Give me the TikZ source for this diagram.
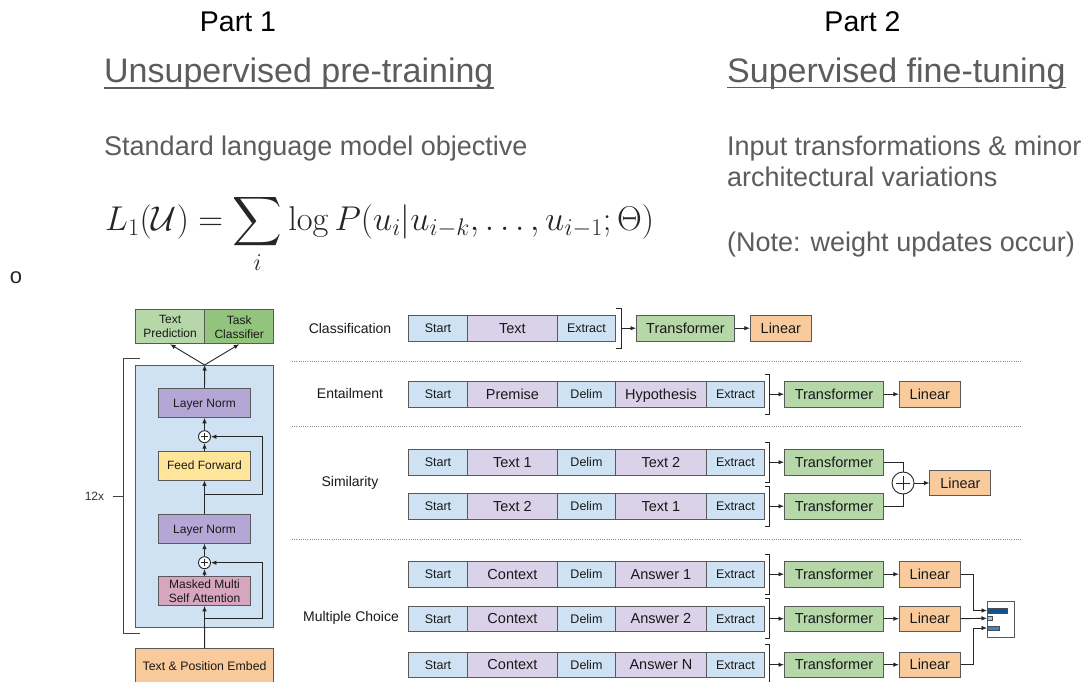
\RequirePackage{fix-cm}
\documentclass[tikz,border=0pt]{standalone}
\usepackage{amsmath}
\usepackage{amssymb}
\usepackage[no-math]{fontspec}
\setmainfont{Liberation Sans}
\usepackage{tikz}
\usetikzlibrary{arrows.meta, calc, positioning}

\definecolor{tokblue}{HTML}{CFE2F3}
\definecolor{toklilac}{HTML}{D9D2E9}
\definecolor{trgreen}{HTML}{B6D7A8}
\definecolor{clsgreen}{HTML}{93C47D}
\definecolor{linorange}{HTML}{F9CB9C}
\definecolor{normpurple}{HTML}{B4A7D6}
\definecolor{ffyellow}{HTML}{FFE599}
\definecolor{attnpink}{HTML}{D5A6BD}
\definecolor{edgegray}{HTML}{595959}
\definecolor{headgray}{HTML}{5C5C5C}
\definecolor{bardark}{HTML}{0B5394}
\definecolor{barlight}{HTML}{9FC5E8}
\definecolor{barmid}{HTML}{3D85C6}

\begin{document}
\begin{tikzpicture}[x=1pt, y=-1pt, >={Latex[length=5.5pt, width=4.5pt]},
  wire/.style={draw=black!85, line width=0.9pt},
  box/.style={draw=edgegray, line width=0.9pt, inner sep=0pt, text=black!90},
  tok/.style={box, fill=tokblue, anchor=north west, minimum height=25.5pt,
    text height=11pt, text depth=2pt, font=\fontsize{12.5}{14}\selectfont},
  seg/.style={tok, fill=toklilac, text height=12.6pt, text depth=2.4pt,
    font=\fontsize{14.5}{17}\selectfont},
  trans/.style={seg, fill=trgreen, minimum width=98pt},
  lin/.style={seg, fill=linorange, minimum width=61pt},
  layer/.style={box, minimum width=92.4pt, minimum height=29pt, align=center,
    font=\fontsize{12}{14}\selectfont},
  sumnode/.style={circle, draw=black!85, line width=0.9pt, fill=white,
    inner sep=0pt, minimum size=#1,
    path picture={\draw[black!85, line width=0.9pt]
      ($(path picture bounding box.west)!0.2!(path picture bounding box.east)$) --
      ($(path picture bounding box.west)!0.8!(path picture bounding box.east)$)
      ($(path picture bounding box.north)!0.2!(path picture bounding box.south)$) --
      ($(path picture bounding box.north)!0.8!(path picture bounding box.south)$);}},
  task/.style={text=black!90, font=\fontsize{14}{17}\selectfont},
  sep/.style={draw=black!45, line width=0.7pt, dash pattern=on 0.7pt off 1.5pt},
  part/.style={anchor=base, inner sep=0pt, font=\fontsize{28.5}{34}\selectfont},
  heading/.style={anchor=base west, inner sep=0pt, text=headgray,
    font=\fontsize{34}{40}\selectfont},
  note/.style={anchor=base west, inner sep=0pt, text=headgray,
    font=\fontsize{27}{32}\selectfont}
]

  \fill[white] (0,0) rectangle (1086,682);
  \useasboundingbox (0,0) rectangle (1086,682);

  % slide text
  \node[part] (part1) at (238,31.5) {Part 1};
  \node[part] (part2) at (862.5,31.5) {Part 2};

  \node[heading] (pretrain) at (104,83) {Unsupervised pre-training};
  \draw[headgray, line width=1.8pt] ([yshift=-5pt]pretrain.base west) -- ([yshift=-5pt]pretrain.base east);
  \node[note] (objective) at (104,155) {Standard language model objective};
  \node[anchor=base west, inner sep=0pt, text=black!85, font=\fontsize{34.4}{40}\selectfont] (loss) at (105,230)
    {$\displaystyle L_1(\mathcal{U}) = \sum_i \log P(u_i|u_{i-k},\ldots,u_{i-1};\Theta)$};
  \node[inner sep=0pt, text=black!85, font=\fontsize{22}{26}\selectfont] (bullet) at (16,277.5) {o};

  \node[heading] (finetune) at (727,82.5) {Supervised fine-tuning};
  \draw[headgray, line width=1.8pt] ([yshift=-5pt]finetune.base west) -- ([yshift=-5pt]finetune.base east);
  \node[note] (inputs) at (727,155) {Input transformations \& minor};
  \node[note] (variations) at (727,186) {architectural variations};
  \node[note] (weights) at (727,251) {(Note: weight updates occur)};

  % decoder stack
  \draw[black!75, line width=0.8pt] (140,358.3) -- (123.3,358.3) -- (123.3,633.3) -- (140,633.3);
  \node[inner sep=0pt, text=black!80, font=\fontsize{12}{14}\selectfont] (reps) at (94.5,496.7) {12x};
  \draw[black!75, line width=0.8pt] ([xshift=8.5pt]reps.east) -- (123.3,496.7);

  \node[box, fill=tokblue, anchor=north west, minimum width=138.3pt, minimum height=261.7pt] (block) at (135,365) {};
  \node[layer, fill=normpurple, text height=10.6pt, text depth=2pt] (norm1) at (204.5,402.8) {Layer Norm};
  \node[sumnode=12pt] (add1) at (204.5,436.7) {};
  \node[layer, fill=ffyellow, text height=10.6pt, text depth=2pt] (ffwd) at (204.5,465.5) {Feed Forward};
  \node[layer, fill=normpurple, text height=10.6pt, text depth=2pt] (norm2) at (204.5,528.7) {Layer Norm};
  \node[sumnode=12pt] (add2) at (204.5,562.7) {};
  \node[layer, fill=attnpink] (attn) at (204.5,590.9) {Masked Multi\\Self Attention};
  \node[box, fill=linorange, anchor=north west, minimum width=138.3pt, minimum height=35pt,
    text height=10.8pt, text depth=2pt, font=\fontsize{12.3}{15}\selectfont] (embed) at (135,648.3) {Text \& Position Embed};

  \node[box, fill=trgreen, anchor=north west, minimum width=69.3pt, minimum height=34pt, align=center,
    font=\fontsize{12}{14}\selectfont] (predict) at (135,309.3) {Text\\Prediction};
  \node[box, fill=clsgreen, anchor=north west, minimum width=69pt, minimum height=34pt, align=center,
    font=\fontsize{12}{14}\selectfont] (classify) at (204.3,309.3) {Task\\Classifier};

  \draw[wire, ->] (embed) -- (attn);
  \draw[wire, ->] (attn) -- (add2);
  \draw[wire, ->] (add2) -- (norm2);
  \draw[wire, ->] (norm2) -- (ffwd);
  \draw[wire, ->] (ffwd) -- (add1);
  \draw[wire, ->] (add1) -- (norm1);
  \draw[wire, ->] (norm1) -- (block.north);
  \draw[wire, ->] (block.north) -- (predict.south);
  \draw[wire, ->] (block.north) -- (classify.south);

  \coordinate (rail) at (262,0);
  \coordinate (skip1) at (204.5,494);
  \coordinate (skip2) at (204.5,618.3);
  \draw[wire, ->] (skip1) -| (rail |- add1) -- (add1);
  \draw[wire, ->] (skip2) -| (rail |- add2) -- (add2);

  % task rows
  \foreach \y in {361, 426, 539.5} {
    \draw[sep] (292,\y) -- (1022,\y);
  }

  \node[task] (classlbl) at (350,328) {Classification};
  \node[task] (entlbl) at (350,393.5) {Entailment};
  \node[task] (simlbl) at (350,483) {Similarity};
  \node[task] (mclbl) at (351,617.5) {Multiple Choice};

  \node[tok, minimum width=59pt] (cls-s) at (408,315) {Start};
  \node[seg, minimum width=90pt] (cls-a) at (467,315) {Text};
  \node[tok, minimum width=58pt] (cls-e) at (557,315) {Extract};
  \coordinate (cls-br) at ($(cls-e.east)+(6,0)$);
  \draw[wire] ([yshift=7pt]cls-e.north east) -- ++(6,0) -- ([xshift=6pt, yshift=-7pt]cls-e.south east) -- ++(-6,0);
  \node[trans] (cls-tr) at (636,315) {Transformer};
  \node[lin, right=15pt of cls-tr] (cls-lin) {Linear};
  \draw[wire, ->] (cls-br) -- (cls-tr);
  \draw[wire, ->] (cls-tr) -- (cls-lin);

  \foreach \row/\top/\first/\second in {ent/381/Premise/Hypothesis, simA/449/Text 1/Text 2,
      simB/493/Text 2/Text 1, mcA/561/Context/Answer 1, mcB/605.5/Context/Answer 2,
      mcC/651.5/Context/Answer N} {
    \node[tok, minimum width=59pt] (\row-s) at (408,\top) {Start};
    \node[seg, minimum width=90pt] (\row-a) at (467,\top) {\first};
    \node[tok, minimum width=58pt] (\row-d) at (557,\top) {Delim};
    \node[seg, minimum width=91pt] (\row-b) at (615,\top) {\second};
    \node[tok, minimum width=58pt] (\row-e) at (706,\top) {Extract};
    \coordinate (\row-br) at ($(\row-e.east)+(5,0)$);
    \draw[wire] ([yshift=7pt]\row-e.north east) -- ++(5,0) -- ([xshift=5pt, yshift=-7pt]\row-e.south east) -- ++(-5,0);
    \node[trans, minimum width=99pt] (\row-tr) at (784,\top) {Transformer};
    \draw[wire, ->] (\row-br) -- (\row-tr);
  }

  \node[lin, right=15pt of ent-tr] (ent-lin) {Linear};
  \draw[wire, ->] (ent-tr) -- (ent-lin);

  \node[sumnode=22pt] (simplus) at (903,483) {};
  \node[lin, right=15pt of simplus] (sim-lin) {Linear};
  \draw[wire] (simA-tr.east) -| (simplus.north);
  \draw[wire] (simB-tr.east) -| (simplus.south);
  \draw[wire, ->] (simplus) -- (sim-lin);

  \foreach \row in {mcA, mcB, mcC} {
    \node[lin, right=15pt of \row-tr] (\row-lin) {Linear};
    \draw[wire, ->] (\row-tr) -- (\row-lin);
  }

  % answer scores
  \node[draw=edgegray, line width=0.8pt, anchor=north west, inner sep=0pt,
    minimum width=27pt, minimum height=36pt] (scores) at (986.5,600.5) {};
  \node[draw=black!70, line width=0.5pt, fill=bardark, anchor=west, inner sep=0pt,
    minimum width=20pt, minimum height=5pt] (bar1) at (987,610.5) {};
  \node[draw=black!70, line width=0.5pt, fill=barlight, anchor=west, inner sep=0pt,
    minimum width=5pt, minimum height=4.5pt] (bar2) at (987,618.25) {};
  \node[draw=black!70, line width=0.5pt, fill=barmid, anchor=west, inner sep=0pt,
    minimum width=12pt, minimum height=4.5pt] (bar3) at (987,628) {};

  \coordinate (mcbend) at (973,600);
  \draw[wire, ->] (mcA-lin.east) -| (mcbend |- bar1.west) -- (bar1.west);
  \draw[wire, ->] (mcB-lin.east) -- (bar2.west);
  \draw[wire, ->] (mcC-lin.east) -| (mcbend |- bar3.west) -- (bar3.west);

\end{tikzpicture}
\end{document}
